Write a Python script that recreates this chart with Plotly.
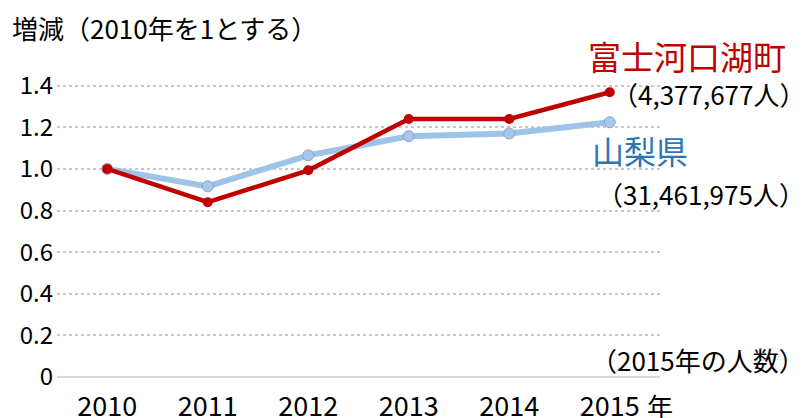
import plotly.graph_objects as go

years = ["2010", "2011", "2012", "2013", "2014", "2015"]
kawaguchiko = [1.00, 0.84, 0.993, 1.24, 1.24, 1.368]
yamanashi = [1.00, 0.916, 1.065, 1.157, 1.170, 1.224]
y_ticks = [0, 0.2, 0.4, 0.6, 0.8, 1.0, 1.2, 1.4, 1.6]
y_ticktext = ["0", "0.2", "0.4", "0.6", "0.8", "1.0", "1.2", "1.4", ""]

FONT = "Noto Sans CJK JP"
RED = "#c00000"
BLUE_LINE = "#9dc3e6"
BLUE_TEXT = "#2e75b6"

L, R, T, B = 57, 146, 44, 41
W, H = 806, 418
pw, ph = W - L - R, H - T - B


def px(x):
    return (x - L) / pw


def py(y):
    return (H - B - y) / ph


fig = go.Figure()
fig.add_trace(go.Scatter(
    x=years, y=yamanashi, mode="lines+markers",
    line=dict(color=BLUE_LINE, width=6),
    marker=dict(size=11, color="#a7c8e8", line=dict(color="#86a6cf", width=1)),
    showlegend=False, hoverinfo="skip"))
fig.add_trace(go.Scatter(
    x=years, y=kawaguchiko, mode="lines+markers",
    line=dict(color=RED, width=4.5),
    marker=dict(size=10, color=RED),
    showlegend=False, hoverinfo="skip"))

annos = [
    dict(text="増減（2010年を1とする）", x=px(10), y=py(28), xanchor="left",
         font=dict(size=26, color="#000000")),
    dict(text="富士河口湖町", x=px(586), y=py(56), xanchor="left",
         font=dict(size=33, color=RED)),
    dict(text="（4,377,677人）", x=px(807), y=py(93), xanchor="right",
         font=dict(size=26, color="#000000")),
    dict(text="山梨県", x=px(590), y=py(150), xanchor="left",
         font=dict(size=32, color=BLUE_TEXT)),
    dict(text="（31,461,975人）", x=px(807), y=py(193), xanchor="right",
         font=dict(size=26, color="#000000")),
    dict(text="（2015年の人数）", x=px(807), y=py(359), xanchor="right",
         font=dict(size=26, color="#000000")),
    dict(text="年", x=px(645), y=py(405), xanchor="left",
         font=dict(size=26, color="#000000")),
]
for a in annos:
    fig.add_annotation(xref="paper", yref="paper", showarrow=False,
                       yanchor="middle", **a)

fig.update_layout(
    width=W, height=H,
    margin=dict(l=L, r=R, t=T, b=B, pad=0),
    paper_bgcolor="white", plot_bgcolor="white",
    font=dict(family=FONT, color="#000000"),
    xaxis=dict(type="category", categoryorder="array", categoryarray=years,
               range=[-0.5, 5.5], showgrid=False, zeroline=False, showline=False,
               ticks="", tickfont=dict(size=27, family=FONT), fixedrange=True,
               automargin=False, ticklabelstandoff=11),
    yaxis=dict(range=[0, 1.6], tickvals=y_ticks, ticktext=y_ticktext,
               showgrid=True, gridcolor="#c8c8c8", gridwidth=1.5, griddash="dot",
               zeroline=True, zerolinecolor="#d9d9d9", zerolinewidth=2,
               showline=False, ticks="", tickfont=dict(size=24, family=FONT),
               fixedrange=True, automargin=False, ticklabelstandoff=3),
)

fig.write_html(
    "out.html",
    config={"displayModeBar": False},
    post_script="document.body.style.margin='0';document.body.style.overflow='hidden';",
)
